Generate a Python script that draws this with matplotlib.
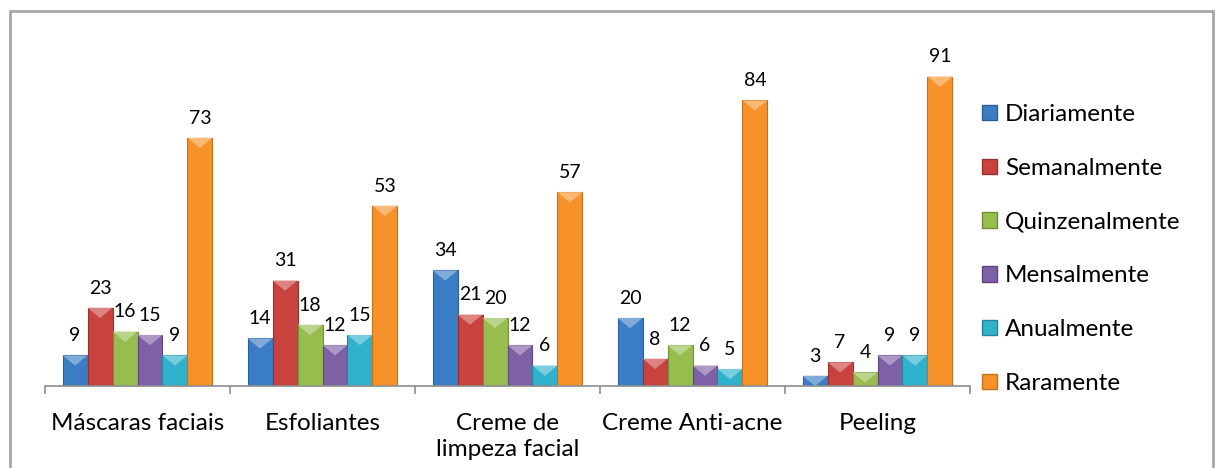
import matplotlib.pyplot as plt
from matplotlib.patches import Patch, Rectangle, Polygon
import numpy as np

plt.rcParams['font.family'] = ['Lato', 'DejaVu Sans']

# Data
categories = ['Máscaras faciais', 'Esfoliantes', 'Creme de\nlimpeza facial', 'Creme Anti-acne', 'Peeling']
series = ['Diariamente', 'Semanalmente', 'Quinzenalmente', 'Mensalmente', 'Anualmente', 'Raramente']
diariamente = [9, 14, 34, 20, 3]
semanalmente = [23, 31, 21, 8, 7]
quinzenalmente = [16, 18, 20, 12, 4]
mensalmente = [15, 12, 12, 6, 9]
anualmente = [9, 15, 6, 5, 9]
raramente = [73, 53, 57, 84, 91]
values = [diariamente, semanalmente, quinzenalmente, mensalmente, anualmente, raramente]

colors = ['#3b7dc4', '#c8423e', '#97bd4f', '#7e60a6', '#31b2cc', '#f7922a']
edges = ['#2c5f96', '#963230', '#718e3b', '#5e477c', '#24859a', '#c0701f']


def lighten(c, f=0.35):
    r, g, b = [int(c[i:i + 2], 16) / 255 for i in (1, 3, 5)]
    return (r + (1 - r) * f, g + (1 - g) * f, b + (1 - b) * f)


fig = plt.figure(figsize=(12.15, 4.68), dpi=100)
ax = fig.add_axes([45 / 1215, 82 / 468, 925 / 1215, 340 / 468])

x = np.arange(len(categories))
width = 0.135
for i, (name, vals) in enumerate(zip(series, values)):
    pos = x + (i - 2.5) * width
    ax.bar(pos, vals, width, color=colors[i], edgecolor=edges[i], linewidth=0.8, zorder=2)
    for p, v in zip(pos, vals):
        # bevel highlight on top of the bar
        tri_h = min(3.0, v)
        ax.add_patch(Polygon([(p - width / 2, v), (p + width / 2, v), (p, v - tri_h)],
                             closed=True, facecolor=lighten(colors[i]), edgecolor='none', zorder=3))
        ax.annotate(str(v), (p, v), xytext=(0, 8), textcoords='offset points',
                    ha='center', va='bottom', fontsize=14, color='black')

ax.set_xlim(-0.5, len(categories) - 0.5)
ax.set_ylim(0, 100)
for s in ['top', 'right', 'left']:
    ax.spines[s].set_visible(False)
ax.spines['bottom'].set_color('#8c8c8c')
ax.spines['bottom'].set_linewidth(1.2)
ax.set_yticks([])
ax.set_xticks(x)
ax.set_xticklabels(categories, fontsize=17.5)
ax.set_xticks(np.arange(len(categories) + 1) - 0.5, minor=True)
ax.tick_params(axis='x', which='major', length=0, pad=19.5)
ax.tick_params(axis='x', which='minor', length=6, color='#8c8c8c', width=1.2)
plt.setp(ax.get_xticklabels(), linespacing=1.3)

handles = [Patch(facecolor=colors[i], edgecolor=edges[i]) for i in range(len(series))]
fig.legend(handles, series, loc='upper left', bbox_to_anchor=(982 / 1215, (468 - 104) / 468),
           frameon=False, fontsize=17.5, handlelength=0.6, handleheight=0.6,
           handletextpad=0.35, labelspacing=1.35, borderpad=0, borderaxespad=0)

# chart border
fig.patches.append(Rectangle((10 / 1215, -0.1), 1203 / 1215, 1.0765,
                             transform=fig.transFigure, fill=False,
                             edgecolor='#a6a6a6', linewidth=2))

fig.savefig('out.png', dpi=100)
